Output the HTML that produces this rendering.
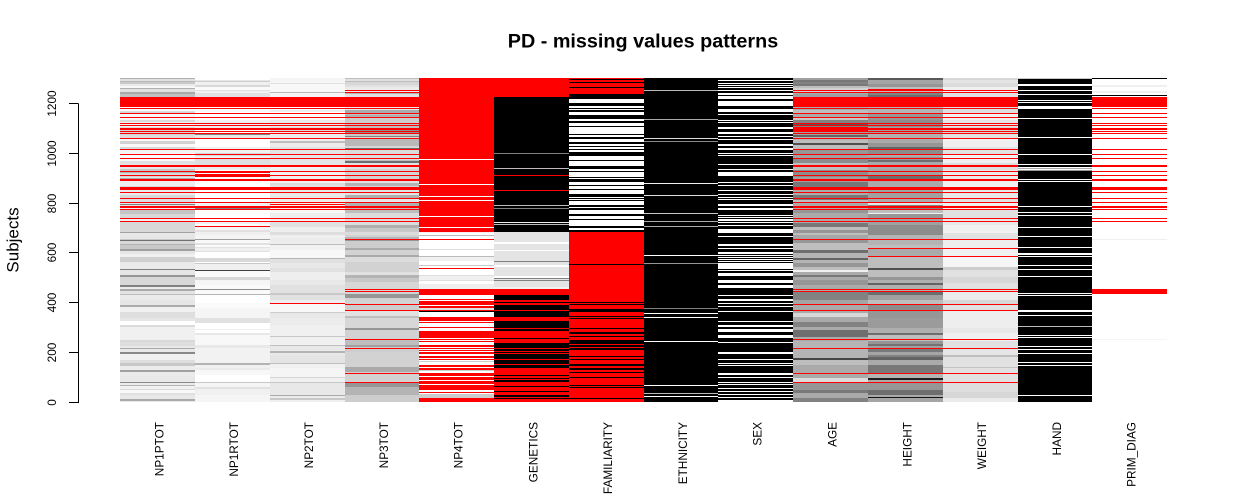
<!DOCTYPE html>
<html>
<head>
<meta charset="utf-8">
<title>PD - missing values patterns</title>
<style>
html,body{margin:0;padding:0;background:#fff;}
body{width:1250px;height:500px;overflow:hidden;}
svg{display:block;}
text{font-family:"Liberation Sans",Arial,sans-serif;fill:#000;}
</style>
</head>
<body>
<svg id="chart" xmlns="http://www.w3.org/2000/svg" width="1250" height="500" viewBox="0 0 1250 500">
<text x="643" y="47.5" text-anchor="middle" font-size="19.8" font-weight="bold">PD - missing values patterns</text>
<text transform="translate(18.5,240) rotate(-90)" text-anchor="middle" font-size="17">Subjects</text>
<g id="cells"></g>
<g id="yaxis"></g>
<g id="xlabels"></g>
</svg>
<script>
// Value codes: M = missing (red); otherwise grey level of the normalised value.
// Each run is [top subject, value] and extends down to the next run's top subject.
const M = -1;
const variables = ["NP1PTOT","NP1RTOT","NP2TOT","NP3TOT","NP4TOT","GENETICS","FAMILIARITY","ETHNICITY","SEX","AGE","HEIGHT","WEIGHT","HAND","PRIM_DIAG"];
const yTicks = [0,200,400,600,800,1000,1200];
const subjectMax = 1296;

const NP1PTOT = [[1296,175],[1292,224],[1284,187],[1280,200],[1272,234],[1264,248],[1256,176],[1252,224],[1240,168],[1232,192],[1220,250],[1164,221],[1160,210],[1152,248],[1128,216],[1120,240],[1100,221],[1092,210],[1068,221],[1056,248],[1044,210],[1032,248],[1020,216],[1012,242],[996,250],[980,248],[964,224],[952,230],[932,200],[924,180],[916,216],[900,230],[896,170],[892,230],[884,238],[864,216],[860,230],[848,234],[828,216],[816,221],[796,230],[792,128],[788,224],[776,240],[768,196],[752,216],[736,240],[720,216],[680,160],[676,232],
[668,230],[652,200],[648,112],[644,216],[632,180],[628,200],[612,160],[604,230],[592,240],[580,208],[560,234],[532,128],[528,230],[508,150],[500,216],[468,128],[460,235],[452,170],[444,228],[432,190],[428,235],[408,230],[388,170],[380,240],[360,222],[336,230],[324,255],[308,220],[300,240],[248,216],[240,222],[224,232],[216,170],[212,232],[200,136],[192,240],[168,222],[156,200],[144,236],[128,160],[120,234],[104,232],[80,136],[76,235],[68,180],[64,240],[52,216],[48,248],[36,224],[28,232],[12,170],[4,232]];

const NP1RTOT = [[1296,255],[1288,230],[1284,205],[1280,240],[1268,216],[1260,250],[1248,225],[1244,240],[1236,225],[1220,255],[1168,248],[1160,255],[1128,240],[1120,235],[1096,255],[1076,128],[1068,232],[1056,255],[1020,240],[996,215],[984,240],[972,222],[948,235],[928,255],[796,240],[780,130],[772,255],[720,240],[712,255],[700,245],[688,225],[680,240],
[668,245],[652,160],[648,248],[636,225],[628,250],[620,225],[616,240],[604,225],[600,255],[576,216],[560,255],[556,200],[552,240],[528,64],[524,250],[500,215],[488,245],[468,250],[452,140],[448,250],[432,180],[428,255],[396,250],[376,245],[336,225],[316,255],[292,238],[288,255],[276,232],[268,248],[228,232],[216,242],[156,180],[148,240],[136,235],[128,248],[108,255],[80,200],[76,245],[60,225],[52,240],[28,245]];

const NP2TOT = [[1296,245],[1276,225],[1272,248],[1240,185],[1236,245],[1220,255],[1168,238],[1160,255],[1148,250],[1128,232],[1100,220],[1080,235],[1060,238],[1044,190],[1036,235],[1020,225],[1008,228],[948,240],[876,220],[868,225],[848,232],[816,238],[796,240],[768,248],[756,238],[736,240],[720,225],[700,238],[680,222],
[668,240],[656,236],[632,190],[628,242],[608,248],[576,180],[572,225],[556,232],[536,225],[520,238],[488,232],[468,225],[436,200],[428,225],[408,238],[392,248],[360,205],[356,232],[336,236],[308,240],[264,200],[260,240],[228,190],[224,232],[204,180],[196,232],[184,228],[156,190],[152,240],[136,245],[100,215],[96,240],[80,200],[76,232],[28,170],[24,235],[16,200],[8,240]];

const NP3TOT = [[1296,190],[1292,225],[1284,190],[1280,215],[1268,225],[1260,235],[1236,180],[1232,225],[1220,235],[1168,170],[1156,190],[1148,175],[1136,205],[1116,190],[1096,140],[1072,200],[1064,130],[1060,215],[1052,185],[1024,215],[1016,110],[1012,220],[968,190],[964,110],[956,225],[932,210],[884,225],[876,180],[864,210],[848,225],[828,175],[816,230],[796,175],[776,190],[756,220],[708,175],[696,200],[680,220],
[668,210],[660,180],[648,150],[644,205],[616,170],[608,210],[588,170],[580,220],[560,210],[520,225],[508,180],[496,200],[480,215],[440,210],[432,150],[416,210],[392,80],[388,205],[364,225],[344,190],[336,215],[296,150],[288,210],[248,190],[228,160],[220,205],[200,210],[140,170],[120,210],[76,150],[60,180],[28,205]];

const NP4TOT = [[1296,M],[972,255],[968,M],[872,255],[868,M],[824,255],[820,M],[808,255],[804,M],[744,255],[740,M],[700,255],[696,M],[680,240],[676,255],
[668,187],[664,255],[652,M],[648,255],[612,221],[608,255],[584,187],[580,240],[564,255],[548,204],[544,255],[536,M],[532,255],[508,221],[504,240],[488,221],[484,255],[472,238],[452,M],[428,255],[412,M],[408,255],[404,M],[388,255],[384,M],[376,224],[368,M],[364,0],[360,255],[340,M],[324,255],[320,M],[316,255],[300,M],[296,255],[284,M],[256,255],[252,M],[248,255],[244,M],[240,255],[228,M],[220,255],[216,M],[212,255],[208,M],[204,255],[200,M],[192,255],[184,M],[176,255],[172,M],[168,255],[164,204],[160,255],[148,M],[140,255],[136,M],[128,204],[124,255],[116,M],[104,255],[100,M],[88,255],[84,M],[72,255],[68,M],[48,255],[40,M],[36,255],[32,204],[16,M]];

const GENETICS = [[1296,M],[1220,0],[996,128],[992,0],[936,187],[932,0],[908,M],[904,0],[848,M],[844,0],[788,187],[784,0],[776,128],[772,0],[720,238],[716,0],[712,187],[708,0],[680,228],
[640,255],[632,228],[608,255],[604,228],[564,128],[560,228],[548,255],[540,228],[504,255],[496,128],[492,228],[488,128],[484,228],[460,240],[452,M],[428,0],[408,M],[400,0],[396,M],[388,0],[368,M],[364,0],[340,M],[324,0],[296,M],[292,0],[284,M],[256,0],[252,M],[236,0],[216,M],[212,0],[204,M],[200,0],[196,M],[192,0],[172,M],[168,0],[152,M],[148,0],[136,M],[108,0],[104,M],[96,0],[92,M],[88,0],[80,M],[64,0],[60,M],[44,0],[40,M],[28,0],[20,M],[16,0],[12,M]];

const FAMILIARITY = [[1296,M],[1292,0],[1288,M],[1280,0],[1276,M],[1260,0],[1256,M],[1232,0],[1212,255],[1196,0],[1184,255],[1176,0],[1172,255],[1168,0],[1160,255],[1148,0],[1132,255],[1124,0],[1116,255],[1104,0],[1100,255],[1072,0],[1068,255],[1060,0],[1052,255],[1040,0],[1032,255],[1024,0],[1020,255],[1012,0],[1008,255],[1000,0],[984,255],[968,0],[964,255],[944,0],[932,255],[924,0],[920,255],[900,0],[896,255],[892,0],[880,255],[868,0],[864,255],[852,0],[848,255],[832,0],[820,255],[816,0],[812,255],[808,0],[804,255],[788,0],[780,255],[776,0],[768,255],[752,0],[744,255],[732,0],[728,255],[704,0],[696,255],[688,0],[680,M],
[552,0],[548,M],[400,0],[396,M],[392,0],[388,M],[372,0],[360,M],[344,0],[340,M],[336,0],[332,M],[296,0],[292,M],[280,0],[272,M],[264,0],[260,M],[248,0],[232,M],[228,0],[220,M],[216,0],[208,M],[184,0],[180,M],[172,0],[168,M],[152,0],[144,M],[136,0],[128,M],[120,0],[116,M],[100,0],[96,M],[68,0],[64,M],[60,0],[56,M],[16,0],[12,M]];

const ETHNICITY = [[1296,0],[1248,187],[1244,0],[1132,170],[1128,0],[1056,221],[1052,0],[1044,136],[1040,0],[876,240],[872,0],[828,221],[824,0],[756,200],[752,0],[724,170],[720,0],[704,170],[700,0],
[588,255],[584,0],[556,150],[552,0],[376,128],[372,0],[356,255],[352,0],[340,255],[336,0],[244,255],[240,0],[68,255],[64,0],[36,187],[32,0],[24,255],[20,0]];

const SEX = [[1296,0],[1288,255],[1284,0],[1276,255],[1272,0],[1268,255],[1264,0],[1260,255],[1256,0],[1248,255],[1244,0],[1236,255],[1228,0],[1224,255],[1212,0],[1204,255],[1184,0],[1172,255],[1160,0],[1152,255],[1148,0],[1128,255],[1124,0],[1120,255],[1116,0],[1100,255],[1092,0],[1080,255],[1072,0],[1064,255],[1060,0],[1052,255],[1048,0],[1032,255],[1024,0],[1016,255],[1008,0],[996,255],[992,0],[988,255],[984,0],[952,255],[948,0],[932,255],[928,0],[920,255],[904,0],[880,255],[876,0],[868,255],[864,0],[848,255],[844,0],[832,255],[828,0],[820,255],[816,0],[812,255],[808,0],[792,255],[784,0],[776,255],[768,0],[748,255],[744,0],[740,255],[736,0],[732,255],[724,0],[720,255],[716,0],[708,255],[704,0],[692,255],[676,0],[664,255],[660,0],
[632,255],[624,0],[616,255],[612,0],[600,255],[592,0],[588,255],[584,0],[580,255],[576,0],[572,255],[568,0],[564,255],[560,0],[556,255],[532,0],[528,255],[524,0],[516,255],[504,0],[488,255],[476,0],[468,255],[456,0],[428,255],[424,0],[412,255],[404,0],[396,255],[392,0],[384,255],[380,0],[364,255],[360,0],[324,255],[320,0],[308,255],[300,0],[292,255],[280,0],[268,255],[256,0],[240,255],[236,0],[200,255],[192,0],[172,255],[168,0],[156,255],[152,0],[148,255],[144,0],[116,255],[108,0],[100,255],[96,0],[80,255],[76,0],[72,255],[68,0],[56,255],[52,0],[44,255],[40,0],[32,255],[28,0],[20,255],[16,0],[8,255]];

const AGE = [[1296,160],[1288,120],[1280,130],[1272,120],[1264,190],[1256,210],[1240,170],[1232,160],[1220,170],[1168,190],[1156,170],[1140,200],[1128,130],[1116,90],[1108,130],[1080,160],[1068,100],[1060,180],[1048,190],[1036,80],[1028,190],[1008,150],[988,160],[972,140],[956,190],[928,140],[900,160],[880,120],[848,170],[828,120],[808,190],[796,170],[768,150],[756,170],[716,120],[700,190],[688,150],[676,190],
[668,165],[648,150],[636,190],[608,110],[596,180],[576,100],[568,180],[556,150],[540,190],[528,240],[520,170],[508,120],[500,170],[488,150],[468,170],[440,130],[408,165],[388,170],[356,215],[340,170],[320,130],[300,170],[288,110],[260,170],[244,180],[176,70],[168,190],[148,170],[96,220],[76,150],[48,120],[36,170],[16,130]];

const HEIGHT = [[1296,90],[1288,165],[1272,150],[1260,190],[1240,130],[1228,110],[1220,180],[1156,150],[1128,140],[1100,160],[1076,175],[1052,170],[1036,150],[1020,100],[1012,140],[988,170],[980,150],[968,110],[960,170],[928,160],[904,110],[884,170],[848,160],[812,170],[796,230],[788,130],[772,190],[756,240],[752,150],[732,160],[708,140],
[668,180],[628,190],[612,170],[580,190],[536,80],[528,190],[500,150],[488,175],[476,100],[468,175],[440,110],[428,160],[408,190],[388,140],[364,150],[336,155],[296,175],[276,110],[268,190],[244,150],[232,115],[224,160],[212,120],[200,165],[188,130],[180,100],[168,170],[148,120],[112,180],[96,30],[88,170],[76,150],[48,110],[28,170],[20,20],[16,165]];

const WEIGHT = [[1296,215],[1288,228],[1276,220],[1260,240],[1240,225],[1220,222],[1156,240],[1128,230],[1100,215],[1076,225],[1052,240],[1020,225],[988,240],[956,222],[928,235],[884,240],[848,232],[816,225],[796,240],[768,225],[732,232],[708,240],[676,225],
[668,225],[648,238],[612,240],[580,245],[540,205],[528,225],[500,215],[476,225],[440,235],[408,215],[388,225],[364,238],[296,232],[276,240],[244,225],[208,230],[188,190],[180,225],[140,195],[136,225],[76,222],[40,215],[16,235]];

const HAND = [[1296,200],[1292,0],[1272,255],[1264,0],[1248,255],[1244,0],[1232,255],[1228,0],[1208,255],[1204,0],[1200,255],[1196,0],[1184,255],[1172,0],[1136,255],[1132,0],[1060,255],[1056,0],[992,255],[988,0],[952,255],[948,0],[940,255],[936,170],[932,255],[928,150],[924,0],[892,255],[888,0],[884,255],[880,0],[784,255],[780,0],[760,255],[756,0],[748,255],[744,0],[700,255],[696,0],[664,255],[660,0],
[620,255],[616,0],[596,255],[588,0],[584,255],[580,0],[548,255],[544,0],[532,255],[528,0],[504,255],[500,0],[436,255],[432,0],[428,255],[424,0],[368,255],[360,0],[348,255],[344,0],[304,187],[300,0],[268,255],[264,0],[260,255],[256,0],[224,255],[220,0],[212,255],[208,0],[196,255],[192,0],[160,255],[156,0],[148,255],[144,0],[28,255],[24,0]];

const PRIM_DIAG = [[1296,0],[1292,255],[1268,240],[1260,255],[1244,240],[1236,255],[1228,0],[1224,255],[652,240],[648,255],[252,244],[248,255]];

// Subject ranges [high, low] that are entirely missing for a group of variables.
const missingCore = [[1220,1180],[1176,1172],[1156,1152],[1140,1136],[1116,1112],[1108,1104],[1096,1088],[1084,1080],[1076,1072],[1056,1052],[1012,1008],[992,988],[976,972],[948,940],[924,920],[908,904],[892,884],[860,848],[840,836],[816,812],[800,796],[784,776],[772,768],[736,732],[724,720]];
const missingMotor = [[1248,1244],[1240,1236],[652,648],[452,448],[444,440],[392,388],[368,364],[252,248],[216,212],[116,112],[80,76]];
const missingBody = [[616,612],[584,580]];
const missingNP1R = [[924,916],[912,900],[704,700]];
const missingNP2 = [[792,788],[396,392]];
const missingAge = [[1100,1080]];
const missingHeight = [[1252,1244]];
const missingPrim = [[452,432]];

const runsByVariable = [NP1PTOT,NP1RTOT,NP2TOT,NP3TOT,NP4TOT,GENETICS,FAMILIARITY,ETHNICITY,SEX,AGE,HEIGHT,WEIGHT,HAND,PRIM_DIAG];
const missingByVariable = [
  [missingCore],
  [missingCore,missingNP1R],
  [missingCore,missingNP2],
  [missingCore,missingMotor],
  [],[],[],[],[],
  [missingCore,missingMotor,missingAge],
  [missingCore,missingMotor,missingBody,missingHeight],
  [missingCore,missingMotor,missingBody],
  [],
  [missingCore,missingPrim]
];

const SVGNS = "http://www.w3.org/2000/svg";
const plotLeft = 120, plotRight = 1167, plotBottom = 402, pxPerSubject = 0.25, pxPerTick = 0.2492;
function yScale(s){ return plotBottom - Math.min(s, subjectMax) * pxPerSubject; }
function xScale(i){ return plotLeft + i * (plotRight - plotLeft) / variables.length; }
function colorOf(v){ return v === M ? "#ff0000" : "rgb(" + v + "," + v + "," + v + ")"; }

const cells = document.getElementById("cells");
function addCell(parent, i, hi, lo, v){
  const x0 = Math.round(xScale(i) + 0.15), x1 = Math.round(xScale(i + 1) + 0.15);
  const r = document.createElementNS(SVGNS, "rect");
  r.setAttribute("x", x0);
  r.setAttribute("width", x1 - x0);
  r.setAttribute("y", yScale(hi));
  r.setAttribute("height", yScale(lo) - yScale(hi));
  r.setAttribute("fill", colorOf(v));
  r.setAttribute("shape-rendering", "crispEdges");
  
  
  parent.appendChild(r);
}
variables.forEach(function(name, i){
  const g = document.createElementNS(SVGNS, "g");
  
  
  const runs = runsByVariable[i];
  runs.forEach(function(run, j){
    const lo = j + 1 < runs.length ? runs[j + 1][0] : 0;
    addCell(g, i, run[0], lo, run[1]);
  });
  missingByVariable[i].forEach(function(list){
    list.forEach(function(range){
      addCell(g, i, range[0], range[1], M);
    });
  });
  cells.appendChild(g);
});

const yaxis = document.getElementById("yaxis");
function addLine(parent, x1, y1, x2, y2, nm){
  const l = document.createElementNS(SVGNS, "line");
  l.setAttribute("x1", x1);
  l.setAttribute("y1", y1);
  l.setAttribute("x2", x2);
  l.setAttribute("y2", y2);
  l.setAttribute("stroke", "#000");
  l.setAttribute("stroke-width", "1");
  l.setAttribute("shape-rendering", "crispEdges");
  
  
  parent.appendChild(l);
}
const tickY = function(t){ return Math.floor(plotBottom + 0.5 - t * pxPerTick) + 0.5; };
addLine(yaxis, 78.5, tickY(yTicks[yTicks.length - 1]), 78.5, tickY(yTicks[0]) + 0.5, 'y-axis-line');
yTicks.forEach(function(t){
  addLine(yaxis, 69, tickY(t), 78.5, tickY(t), 'y-tick');
  const tx = document.createElementNS(SVGNS, "text");
  tx.setAttribute("transform", "translate(56," + tickY(t) + ") rotate(-90)");
  tx.setAttribute("text-anchor", "middle");
  tx.setAttribute("font-size", "11.8");
  
  
  tx.textContent = t;
  yaxis.appendChild(tx);
});

const xlabels = document.getElementById("xlabels");
variables.forEach(function(name, i){
  const tx = document.createElementNS(SVGNS, "text");
  const cx = (xScale(i) + xScale(i + 1)) / 2 + 6;
  tx.setAttribute("transform", "translate(" + cx + ",422) rotate(-90)");
  tx.setAttribute("text-anchor", "end");
  tx.setAttribute("font-size", "11.8");
  
  
  tx.textContent = name;
  xlabels.appendChild(tx);
});
</script>
</body>
</html>
